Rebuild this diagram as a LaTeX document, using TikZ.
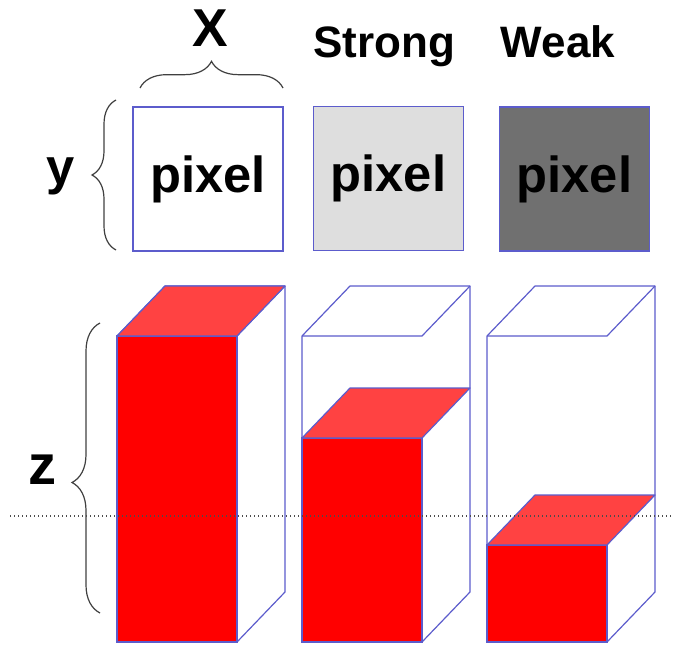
\documentclass[tikz,border=0pt]{standalone}
\usepackage{fontspec}
\setmainfont{Liberation Sans}
\usetikzlibrary{decorations.pathreplacing}
\definecolor{edgeblue}{rgb}{0.36,0.36,0.80}
\definecolor{lightgrey}{rgb}{0.87,0.87,0.87}
\definecolor{darkgrey}{rgb}{0.44,0.44,0.44}
\definecolor{lightred}{rgb}{1,0.26,0.26}

\begin{document}
\begin{tikzpicture}[x=0.75pt,y=0.75pt,yscale=-1,xscale=1,
  pixelbox/.style={draw=edgeblue, line width=0.9pt, minimum width=112.5pt, minimum height=108pt, inner sep=0pt, font=\fontsize{38}{40}\selectfont\bfseries},
  label/.style={anchor=base, inner sep=0pt, font=\fontsize{#1}{#1}\selectfont\bfseries},
  bigbrace/.style={decorate, decoration={brace, amplitude=#1}, line width=0.9pt, draw=black!75},
  prism/.style={draw=edgeblue, line width=0.9pt, fill=white, line join=round},
  redfront/.style={draw=edgeblue, line width=0.9pt, fill=red},
  redtop/.style={draw=edgeblue, line width=0.9pt, fill=lightred, line join=round}]
\useasboundingbox (0,0) rectangle (673,645);

% pixel boxes
\node[pixelbox] (pixA) at (208,179) {pixel};
\node[pixelbox, fill=lightgrey] (pixB) at (388.5,178.5) {pixel};
\node[pixelbox, fill=darkgrey] (pixC) at (574.5,179) {pixel};

% Text Node
\node[label=40] (labX) at (210,47) {X};
\node[label=33] (labStrong) at (384,58) {Strong};
\node[label=33] (labWeak) at (558,58) {Weak};
\node[label=38] (laby) at (61,185) {y};
\node[label=42] (labz) at (42,484) {z};

% braces
\draw[bigbrace=20pt] (140,88) -- (283,88);
\draw[bigbrace=18pt] (116,250) -- (116,100);
\draw[bigbrace=21pt, decoration={aspect=0.45}] (100,613) -- (100,323);

% columns: left x / height of the red block
\foreach \cx/\h in {117/306, 302/204, 487/97} {
  %Shape: outer prism (outline only)
  \draw[prism] (\cx,642) -- (\cx,336) -- (\cx+48,286) -- (\cx+168,286) -- (\cx+168,592) -- (\cx+120,642) -- cycle;
  \draw[prism, fill=none] (\cx,336) -- (\cx+120,336) -- (\cx+168,286);
  %Shape: red block
  \draw[redfront] (\cx,642-\h) rectangle (\cx+120,642);
  \draw[redtop] (\cx,642-\h) -- (\cx+48,592-\h) -- (\cx+168,592-\h) -- (\cx+120,642-\h) -- cycle;
}

% level line
\draw[dotted, line width=1pt, black!70] (10,516) -- (673,516);

\end{tikzpicture}
\end{document}
